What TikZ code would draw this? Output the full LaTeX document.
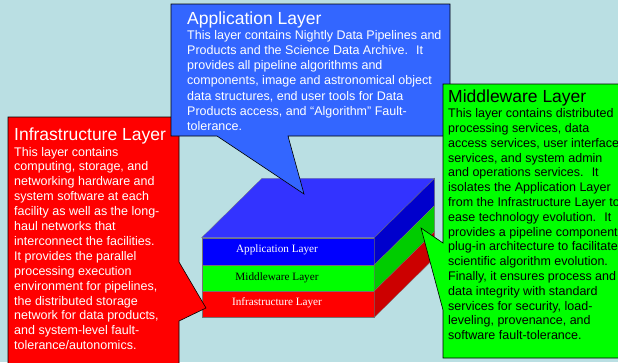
\documentclass[tikz,border=0pt]{standalone}
\usepackage{fontspec}
\setmainfont{Liberation Sans}
\newfontfamily\serifx{Liberation Serif}
\definecolor{bg}{RGB}{186,223,227}
\definecolor{callblue}{RGB}{51,102,255}
\definecolor{topblue}{RGB}{51,51,255}
\definecolor{frontblue}{RGB}{0,0,255}
\definecolor{sideblue}{RGB}{0,0,204}
\definecolor{frontgreen}{RGB}{0,255,0}
\definecolor{sidegreen}{RGB}{0,204,0}
\definecolor{frontred}{RGB}{255,0,0}
\definecolor{sidered}{RGB}{204,0,0}
\begin{document}
\begin{tikzpicture}[x=1pt,y=-1pt,
  callout/.style={draw=black, line width=0.6pt, line join=miter},
  face/.style={draw=black!55, line width=0.3pt},
  ttl/.style={anchor=base west, inner sep=0pt, font=\fontsize{17.5}{20}\selectfont},
  bodytext/.style={anchor=base west, inner sep=0pt, align=left},
  lbl/.style={anchor=base, inner sep=0pt, font=\serifx\fontsize{11.2}{13}\selectfont}]
\useasboundingbox (0,0) rectangle (618,362);
\fill[bg] (0,0) rectangle (618,362);

% ---- 3D stack ----
\def\fl{201.7}\def\fr{374.3}\def\dx{60.3}\def\dy{59.4}
% top face
\filldraw[face, fill=topblue] (\fl,237.7) -- (\fr,237.7) -- (\fr+\dx,237.7-\dy) -- (\fl+\dx,237.7-\dy) -- cycle;
% blue layer
\filldraw[face, fill=frontblue] (\fl,237.7) rectangle (\fr,265);
\filldraw[face, fill=sideblue] (\fr,237.7) -- (\fr+\dx,237.7-\dy) -- (\fr+\dx,265-\dy) -- (\fr,265) -- cycle;
% green layer
\filldraw[face, fill=frontgreen] (\fl,265) rectangle (\fr,291);
\filldraw[face, fill=sidegreen] (\fr,265) -- (\fr+\dx,265-\dy) -- (\fr+\dx,291-\dy) -- (\fr,291) -- cycle;
% red layer
\filldraw[face, fill=frontred] (\fl,291) rectangle (\fr,317.3);
\filldraw[face, fill=sidered] (\fr,291) -- (\fr+\dx,291-\dy) -- (\fr+\dx,317.3-\dy) -- (\fr,317.3) -- cycle;

\node[lbl, text=white] (la) at (277,252.3) {Application Layer};
\node[lbl, text=black] (lm) at (277,280) {Middleware Layer};
\node[lbl, text=white] (li) at (277,305) {Infrastructure Layer};

% ---- red callout ----
\filldraw[callout, fill=frontred] (8,117) -- (179,117) -- (179,262) -- (206,308) -- (179,321) -- (179,372) -- (8,372) -- cycle;
\node[ttl, text=white] (ti) at (14,140.7) {Infrastructure Layer};
% anchor base = baseline of the last line
\node[bodytext, text=white, font=\fontsize{12.5}{14.9}\selectfont] (bi) at (14,349.7) {This layer contains\\
computing, storage, and\\
networking hardware and\\
system software at each\\
facility as well as the long-\\
haul networks that\\
interconnect the facilities.\\
It provides the parallel\\
processing execution\\
environment for pipelines,\\
the distributed storage\\
network for data products,\\
and system-level fault-\\
tolerance/autonomics.};

% ---- blue callout ----
\filldraw[callout, fill=callblue] (171,4) -- (450,4) -- (450,136) -- (288,136) -- (304,194) -- (217,136) -- (171,136) -- cycle;
\node[ttl, text=white] (ta) at (187,24) {Application Layer};
\node[bodytext, text=white, font=\fontsize{12.5}{15.2}\selectfont] (ba) at (187,130.5) {This layer contains Nightly Data Pipelines and\\
Products and the Science Data Archive.~ It\\
provides all pipeline algorithms and\\
components, image and astronomical object\\
data structures, end user tools for Data\\
Products access, and “Algorithm” Fault-\\
tolerance.};

% ---- green callout ----
\filldraw[callout, fill=frontgreen] (443,84) -- (630,84) -- (630,358) -- (443,358) -- (443,310) -- (421,228) -- (443,243) -- cycle;
\node[ttl, text=black] (tm) at (448,102.7) {Middleware Layer};
\node[bodytext, text=black, font=\fontsize{12.5}{14.8}\selectfont] (bm) at (448,339.7) {This layer contains distributed\\
processing services, data\\
access services, user interface\\
services, and system admin\\
and operations services.~ It\\
isolates the Application Layer\\
from the Infrastructure Layer to\\
ease technology evolution.~ It\\
provides a pipeline component\\
plug-in architecture to facilitate\\
scientific algorithm evolution.\\
Finally, it ensures process and\\
data integrity with standard\\
services for security, load-\\
leveling, provenance, and\\
software fault-tolerance.};
\end{tikzpicture}
\end{document}
